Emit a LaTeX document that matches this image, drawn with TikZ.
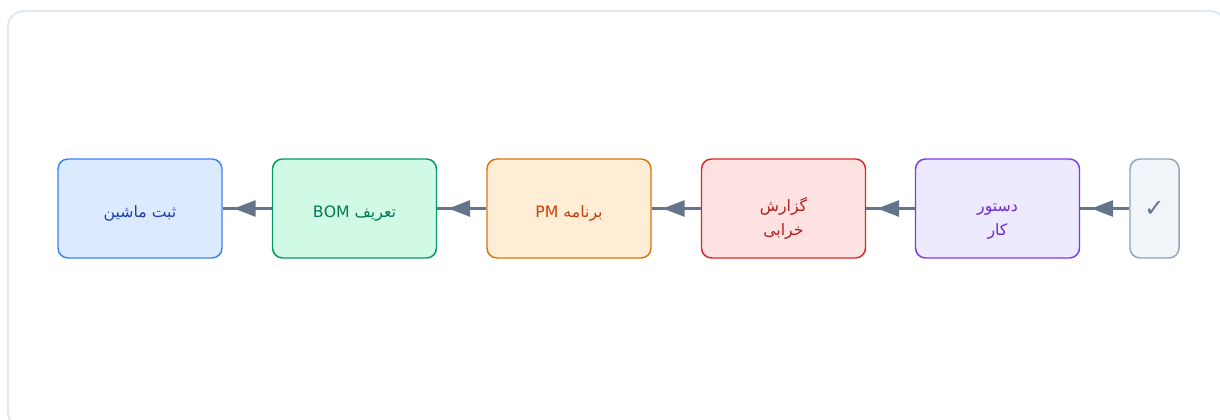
\documentclass[tikz,border=0pt]{standalone}
\usepackage{fontspec}
\usepackage{xcolor}
\newfontfamily\arabicfont[Script=Arabic]{DejaVu Sans}
\newfontfamily\symbfont{DejaVu Sans}
\TeXXeTstate=1
\usetikzlibrary{
    arrows.meta
}
\definecolor{machblue}{HTML}{DBEAFE}
\definecolor{machline}{HTML}{3B82F6}
\definecolor{machtext}{HTML}{1E40AF}
\definecolor{bomgreen}{HTML}{D1FAE5}
\definecolor{bomline}{HTML}{059669}
\definecolor{bomtext}{HTML}{047857}
\definecolor{pmorange}{HTML}{FFEDD5}
\definecolor{pmline}{HTML}{D97706}
\definecolor{pmtext}{HTML}{C2410C}
\definecolor{failred}{HTML}{FEE2E2}
\definecolor{failline}{HTML}{DC2626}
\definecolor{failtext}{HTML}{B91C1C}
\definecolor{orderpurple}{HTML}{EDE9FE}
\definecolor{orderline}{HTML}{7C3AED}
\definecolor{ordertext}{HTML}{6D28D9}
\definecolor{donegray}{HTML}{F1F5F9}
\definecolor{doneline}{HTML}{94A3B8}
\definecolor{edgegray}{HTML}{64748B}
\definecolor{framegray}{HTML}{E2E8F0}
\newcommand{\rtl}[1]{\beginR #1\endR}

\begin{document}
\begin{tikzpicture}[
        x=0.75pt, y=-0.75pt,
        block/.style={draw, rounded corners=7.5pt, line width=1.1pt, minimum width=123pt, minimum height=74.25pt, align=center, font=\arabicfont\fontsize{11.8}{18}\selectfont},
        drop/.style={execute at begin node={\rule{0pt}{#1}}},
        arrow/.style={line width=2.25pt, draw=edgegray, postaction={draw=edgegray, -{Triangle[length=16.5pt, width=12pt]}, shorten >=8.25pt}}
    ]
        \useasboundingbox (0,0) rectangle (1220,420);

        % Frame
        \draw[framegray, line width=1.5pt, rounded corners=12pt] (8,11) rectangle (1226,428);

        % Steps
        \node[block, drop=17pt, fill=machblue, draw=machline, text=machtext] (mach) at (140,208.5) {\rtl{ثبت ماشین}};
        \node[block, drop=17pt, fill=bomgreen, draw=bomline, text=bomtext] (bom) at (354.5,208.5) {\rtl{تعریف \beginL BOM\endL}};
        \node[block, drop=17pt, fill=pmorange, draw=pmline, text=pmtext] (pm) at (569,208.5) {\rtl{برنامه \beginL PM\endL}};
        \node[block, drop=43pt, fill=failred, draw=failline, text=failtext] (fail) at (783.5,208.5) {\rtl{گزارش}\\\rtl{خرابی}};
        \node[block, drop=43pt, fill=orderpurple, draw=orderline, text=ordertext] (order) at (997.5,208.5) {\rtl{دستور}\\\rtl{کار}};

        % Done
        \node[block, fill=donegray, draw=doneline, text=edgegray, minimum width=36.75pt, font=\symbfont\fontsize{18}{18}\selectfont] (done) at (1154.5,208.5) {✓};

        % Arrows
        \draw[arrow] (done) -- (order);
        \draw[arrow] (order) -- (fail);
        \draw[arrow] (fail) -- (pm);
        \draw[arrow] (pm) -- (bom);
        \draw[arrow] (bom) -- (mach);
    \end{tikzpicture}
\end{document}
